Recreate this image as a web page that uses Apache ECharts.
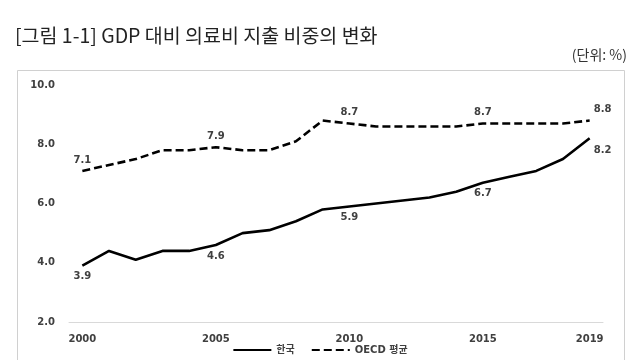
<!DOCTYPE html>
<html><head><meta charset="utf-8">
<script src="https://cdn.jsdelivr.net/npm/echarts@6/dist/echarts.min.js"></script>
<style>html,body{margin:0;padding:0;background:#fff}#c{width:640px;height:360px}</style>
</head><body><div id="c"></div>
<script>
const years = ['2000','2001','2002','2003','2004','2005','2006','2007','2008','2009','2010','2011','2012','2013','2014','2015','2016','2017','2018','2019'];
const labeledYears = ['2000','2005','2010','2015','2019'];
const korea = [3.9,4.4,4.1,4.4,4.4,4.6,5.0,5.1,5.4,5.8,5.9,6.0,6.1,6.2,6.4,6.7,6.9,7.1,7.5,8.2];
const oecd  = [7.1,7.3,7.5,7.8,7.8,7.9,7.8,7.8,8.1,8.8,8.7,8.6,8.6,8.6,8.6,8.7,8.7,8.7,8.7,8.8];
const yTicks = [2,4,6,8,10];
const titleText = '[그림 1-1] GDP 대비 의료비 지출 비중의 변화';
const unitText = '(단위: %)';
const seriesNames = ['한국','OECD 평균'];

const chart = echarts.init(document.getElementById('c'), null, {renderer:'canvas'});
const lblFont = {fontFamily:'DejaVu Sans, sans-serif', fontWeight:'bold', fontSize:10, color:'#404040'};
function labelFor(pos){
  return {
    show:true,
    position: pos,
    distance: 6,
    ...lblFont,
    formatter: p => labeledYears.includes(p.name) ? Number(p.value).toFixed(1) : ''
  };
}
function mkData(arr, pos){
  return arr.map((v,i)=>{
    const d = {value:v};
    if (years[i]==='2019') d.label = {offset:[13, pos==='top'?0:1]};
    return d;
  });
}
chart.setOption({
  animation:false,
  backgroundColor:'#fff',
  graphic:[
    {type:'text', left:15, top:26, style:{text:titleText, fontFamily:'Noto Sans CJK KR, sans-serif', fontSize:19.5, fill:'#222'}},
    {type:'text', right:13, top:48, style:{text:unitText, fontFamily:'Noto Sans CJK KR, sans-serif', fontSize:14, fill:'#333'}},
    {type:'rect', shape:{x:17.5, y:70.5, width:607, height:320}, style:{fill:'none', stroke:'#d0d0d0', lineWidth:1}, silent:true, z:-1}
  ],
  grid:{left:69, right:37, top:85, bottom:38},
  xAxis:{
    type:'category', data:years, boundaryGap:true,
    axisLine:{lineStyle:{color:'#d9d9d9', width:1}},
    axisTick:{show:false},
    axisLabel:{
      ...lblFont, margin:12,
      interval: (i, v) => labeledYears.includes(v),
    }
  },
  yAxis:{
    type:'value', min:2, max:10, interval:2,
    axisLine:{show:false}, axisTick:{show:false}, splitLine:{show:false},
    axisLabel:{...lblFont, margin:14, formatter: v => v.toFixed(1)}
  },
  legend:{
    bottom:0, left:'center', itemGap:16, itemWidth:38, itemHeight:10,
    itemStyle:{opacity:0},
    textStyle:{fontFamily:'DejaVu Sans, Noto Sans CJK KR, sans-serif', fontSize:10, fontWeight:'bold', color:'#404040'},
    data:seriesNames
  },
  series:[
    {name:seriesNames[0], type:'line', data:mkData(korea,'bottom'), symbol:'circle', symbolSize:0.01, showSymbol:true,
     lineStyle:{color:'#000', width:2.6}, itemStyle:{color:'#000'}, label:labelFor('bottom')},
    {name:seriesNames[1], type:'line', data:mkData(oecd,'top'), symbol:'circle', symbolSize:0.01, showSymbol:true,
     lineStyle:{color:'#000', width:2.6, type:[8,4]}, itemStyle:{color:'#000'}, label:labelFor('top')}
  ]
});
</script></body></html>
